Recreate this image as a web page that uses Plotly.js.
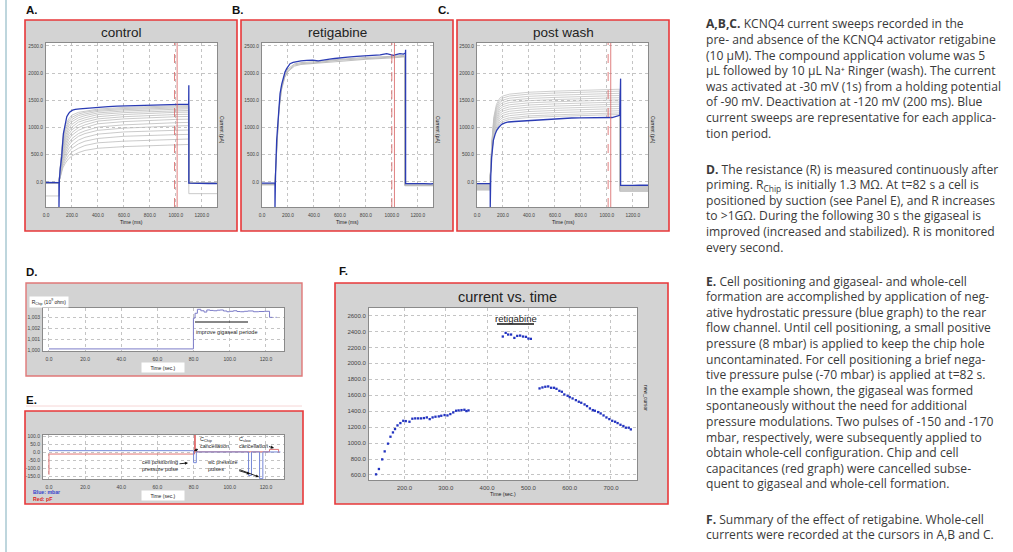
<!DOCTYPE html>
<html><head><meta charset="utf-8">
<script src="https://cdn.plot.ly/plotly-3.0.1.min.js"></script>
<style>html,body{margin:0;padding:0;background:#fff;}#chart{width:1013px;height:552px;}</style>
</head><body><div id="chart"></div>
<script>
// ---------------- DATA ----------------
// Panels A-C: current sweeps (time in ms, current in pA)
const sweepTicks = [0, 200, 400, 600, 800, 1000, 1200];
const sweepTickLabels = ['0.0', '200.0', '400.0', '600.0', '800.0', '1000.0', '1200.0'];
const currentTicks = [0, 500, 1000, 1500, 2000, 2500];
const currentTickLabels = ['0.0', '500.0', '1000.0', '1500.0', '2000.0', '2500.0'];

const blueA_t = [0, 30, 60, 99, 100, 100, 100, 103, 110, 121, 134, 147, 160, 175, 186, 205, 225, 260, 290, 350, 420, 480, 549, 610, 678, 740, 807, 870, 937, 990, 1040, 1099, 1100, 1100, 1110, 1150, 1200, 1250, 1300, 1317];
const blueA_v = [-10, -14, -9, -12, -12, -470, -12, 40, 250, 470, 890, 1080, 1200, 1260, 1290, 1320, 1335, 1345, 1352, 1362, 1372, 1385, 1395, 1400, 1408, 1405, 1420, 1415, 1427, 1425, 1433, 1430, 1780, -20, -22, -26, -20, -28, -25, -30];

const blueB_t = [0, 40, 80, 99, 100, 100, 100, 104, 113, 126, 139, 152, 164, 177, 190, 216, 240, 267, 300, 344, 390, 434, 470, 520, 560, 600, 660, 729, 790, 857, 910, 960, 1011, 1040, 1062, 1090, 1105, 1106, 1106, 1120, 1160, 1200, 1250, 1300, 1317];
const blueB_v = [-20, -22, -18, -20, -20, -470, -20, 100, 767, 1318, 1624, 1800, 1930, 2020, 2083, 2175, 2200, 2218, 2228, 2236, 2240, 2225, 2245, 2260, 2270, 2285, 2295, 2310, 2315, 2328, 2335, 2359, 2328, 2345, 2359, 2350, 2371, 2430, -30, -32, -28, -33, -30, -35, -32];

const blueC_t = [0, 40, 80, 101, 102, 102, 102, 106, 113, 126, 140, 152, 170, 190, 215, 242, 290, 344, 400, 473, 540, 600, 660, 729, 790, 857, 920, 985, 1040, 1100, 1106, 1106, 1120, 1160, 1200, 1250, 1300, 1317];
const blueC_v = [-30, -28, -32, -30, -30, -470, -30, 100, 460, 766, 880, 950, 1010, 1060, 1085, 1103, 1112, 1121, 1135, 1146, 1155, 1164, 1170, 1176, 1180, 1182, 1178, 1182, 1185, 1225, 1900, -60, -62, -58, -64, -60, -62, -60];

// grey sweeps: values at these times (ms)
const greyTimes = [100, 115, 130, 150, 175, 200, 250, 300, 400, 600, 800, 1000, 1100];
const greyA = [
  [0, 150, 260, 350, 430, 480, 540, 580, 620, 650, 670, 680, 690],
  [0, 170, 300, 400, 490, 550, 620, 670, 720, 750, 770, 780, 790],
  [0, 190, 340, 450, 550, 620, 700, 750, 800, 840, 860, 870, 875],
  [0, 210, 380, 500, 610, 680, 770, 820, 880, 920, 940, 950, 955],
  [0, 230, 420, 550, 670, 750, 840, 890, 950, 990, 1015, 1030, 1035],
  [0, 250, 460, 600, 720, 800, 890, 940, 1010, 1050, 1075, 1090, 1095],
  [0, 270, 500, 650, 780, 860, 950, 1000, 1070, 1110, 1135, 1150, 1155],
  [0, 290, 540, 700, 830, 910, 1000, 1050, 1120, 1160, 1185, 1200, 1205],
  [0, 310, 580, 750, 880, 960, 1050, 1100, 1160, 1200, 1225, 1240, 1245],
  [0, 330, 620, 800, 930, 1010, 1100, 1140, 1200, 1240, 1265, 1280, 1285],
  [0, 350, 660, 850, 980, 1060, 1140, 1180, 1240, 1275, 1295, 1310, 1315],
  [0, 370, 700, 900, 1030, 1110, 1180, 1220, 1270, 1305, 1325, 1340, 1345],
  [0, 390, 740, 950, 1080, 1150, 1220, 1250, 1300, 1330, 1350, 1360, 1365],
  [0, 410, 780, 1000, 1120, 1190, 1250, 1280, 1320, 1350, 1370, 1380, 1385],
  [0, 430, 820, 1050, 1160, 1230, 1280, 1300, 1340, 1370, 1390, 1400, 1405]
];
const greyA_pre = [-257, -15, -15, -15, -15, -15, -15, -15, -15, -15, -15, -15, -15, -15, -15];
const greyA_post = [-215, -25, -25, -25, -25, -25, -25, -25, -25, -25, -25, -25, -25, -25, -25];

const greyB = [
  [0, 800, 1350, 1740, 1970, 2080, 2170, 2195, 2210, 2255, 2290, 2310, 2330],
  [0, 780, 1320, 1710, 1940, 2050, 2150, 2175, 2190, 2240, 2270, 2290, 2310],
  [0, 760, 1300, 1690, 1920, 2030, 2130, 2160, 2180, 2225, 2255, 2280, 2300]
];
const greyB_pre = [-35, -45, -55];
const greyB_post = [-50, -60, -70];

const greyC = [
  [0, 750, 1200, 1430, 1540, 1580, 1615, 1630, 1650, 1670, 1685, 1695, 1705],
  [0, 730, 1170, 1390, 1500, 1545, 1580, 1595, 1615, 1635, 1650, 1660, 1670],
  [0, 710, 1140, 1350, 1460, 1505, 1540, 1555, 1575, 1595, 1610, 1620, 1630],
  [0, 690, 1100, 1310, 1420, 1465, 1500, 1515, 1535, 1555, 1570, 1580, 1590],
  [0, 670, 1070, 1270, 1380, 1425, 1460, 1475, 1495, 1515, 1530, 1540, 1550],
  [0, 650, 1040, 1230, 1340, 1385, 1420, 1435, 1455, 1475, 1490, 1500, 1510],
  [0, 630, 1010, 1190, 1300, 1345, 1380, 1395, 1415, 1435, 1450, 1460, 1470],
  [0, 610, 980, 1150, 1260, 1305, 1340, 1355, 1375, 1395, 1410, 1420, 1430],
  [0, 600, 950, 1110, 1220, 1265, 1300, 1315, 1335, 1355, 1370, 1380, 1390],
  [0, 590, 920, 1070, 1180, 1225, 1260, 1275, 1295, 1315, 1330, 1340, 1350],
  [0, 580, 890, 1030, 1140, 1185, 1220, 1235, 1255, 1275, 1290, 1300, 1310],
  [0, 570, 860, 1000, 1100, 1145, 1180, 1195, 1215, 1235, 1250, 1260, 1270],
  [0, 560, 840, 970, 1070, 1110, 1150, 1165, 1185, 1205, 1220, 1230, 1240]
];
const greyC_pre = [-150, -140, -130, -120, -110, -100, -90, -80, -70, -60, -50, -40, -35];
const greyC_post = [-175, -165, -155, -145, -135, -125, -115, -105, -95, -85, -75, -70, -65];

// cursor positions (ms) [dashed, solid]
const cursorsA = [990, 1010];
const cursorsB = [1000, 1020];
const cursorsC = [1010, 1030];

// Panel D: resistance (10^9 ohm) vs time (s)
const secTicks = [0, 20, 40, 60, 80, 100, 120];
const secTickLabels = ['0.0', '20.0', '40.0', '60.0', '80.0', '100.0', '120.0'];
const resTicks = [1.000, 1.001, 1.002, 1.003];
const resTickLabels = ['1,000', '1,001', '1,002', '1,003'];
const dTime = [0, 79.9, 80.8, 82.1, 84, 85.8, 87.3, 89, 91, 93, 94.7, 96.5, 98.4, 100, 102, 104, 105.8, 108, 110, 113.1, 116, 119, 122];
const dR = [1.0001, 1.0029, 1.00334, 1.0037, 1.00357, 1.00345, 1.00364, 1.0036, 1.00357, 1.00362, 1.00364, 1.00355, 1.00348, 1.00352, 1.00357, 1.0035, 1.00348, 1.00352, 1.00355, 1.00348, 1.0035, 1.00352, 1.00297];
const dTailTime = [122, 126];
const dTailR = [1.00297, 1.00297];

// Panel E: pressure (mbar) and capacitance (pF) vs time (s)
const eTicks = [-150, -100, -50, 0, 50, 100];
const eTickLabels = ['-150.0', '-100.0', '-50.0', '0.0', '50.0', '100.0'];
const eTime = [0, 80, 80, 81.5, 81.5, 110.4, 110.4, 112, 112, 116.5, 116.5, 118.3, 118.3, 128];
const ePressure = [10, 10, -65, -65, 2, 2, -145, -145, 2, 2, -165, -165, 2, 2];
const capTime = [0, 0, 80.5, 80.5, 81, 81, 122, 122, 127, 127];
const capValue = [-140, -11, -11, 110, 110, 3, 3, 18, 18, -2];

// Panel F: current vs time
const fTicksX = [200, 300, 400, 500, 600, 700];
const fTickLabelsX = ['200.0', '300.0', '400.0', '500.0', '600.0', '700.0'];
const fTicksY = [600, 800, 1000, 1200, 1400, 1600, 1800, 2000, 2200, 2400, 2600];
const fTickLabelsY = ['600.0', '800.0', '1000.0', '1200.0', '1400.0', '1600.0', '1800.0', '2000.0', '2200.0', '2400.0', '2600.0'];
const fTime = [131, 138, 146, 152, 160, 166, 172, 177, 183, 190, 197, 203, 212, 219, 226, 233, 240, 247, 254, 261, 268, 275, 283, 289, 297, 304, 311, 318, 325, 331, 338, 345, 350, 355,
  438, 445, 451, 458, 466, 473, 480, 487, 494, 500, 506,
  527, 534, 541, 548, 555, 562, 568, 575, 581, 587, 595, 600, 607, 615, 622, 628, 636, 642, 649, 656, 661, 669, 675, 682, 689, 696, 703, 710, 716, 723, 730, 736, 743, 748];
const fCurrent = [608, 675, 796, 896, 993, 1080, 1134, 1176, 1222, 1251, 1280, 1276, 1268, 1306, 1310, 1310, 1310, 1314, 1322, 1301, 1322, 1331, 1335, 1343, 1352, 1347, 1364, 1385, 1406, 1410, 1414, 1418, 1402, 1410,
  2337, 2383, 2362, 2362, 2320, 2345, 2349, 2337, 2333, 2312, 2308,
  1686, 1698, 1707, 1711, 1694, 1694, 1681, 1656, 1644, 1610, 1594, 1577, 1560, 1539, 1519, 1506, 1485, 1464, 1435, 1414, 1406, 1389, 1372, 1347, 1322, 1301, 1280, 1268, 1251, 1230, 1214, 1193, 1193, 1172];

// Text panel
const textABC = [
  '<b>A,B,C.</b> KCNQ4 current sweeps recorded in the',
  'pre- and absence of the KCNQ4 activator retigabine',
  '(10 µM). The compound application volume was 5',
  'µL followed by 10 µL Na⁺ Ringer (wash). The current',
  'was activated at -30 mV (1s) from a holding potential',
  'of -90 mV. Deactivation at -120 mV (200 ms). Blue',
  'current sweeps are representative for each applica-',
  'tion period.'
];
const textD = [
  '<b>D.</b> The resistance (R) is measured continuously after',
  'priming. R<sub>Chip</sub> is initially 1.3 MΩ. At t=82 s a cell is',
  'positioned by suction (see Panel E), and R increases',
  'to &gt;1GΩ. During the following 30 s the gigaseal is',
  'improved (increased and stabilized). R is monitored',
  'every second.'
];
const textE = [
  '<b>E.</b> Cell positioning and gigaseal- and whole-cell',
  'formation are accomplished by application of neg-',
  'ative hydrostatic pressure (blue graph) to the rear',
  'flow channel. Until cell positioning, a small positive',
  'pressure (8 mbar) is applied to keep the chip hole',
  'uncontaminated. For cell positioning a brief nega-',
  'tive pressure pulse (-70 mbar) is applied at t=82 s.',
  'In the example shown, the gigaseal was formed',
  'spontaneously without the need for additional',
  'pressure modulations. Two pulses of -150 and -170',
  'mbar, respectively, were subsequently applied to',
  'obtain whole-cell configuration. Chip and cell',
  'capacitances (red graph) were cancelled subse-',
  'quent to gigaseal and whole-cell formation.'
];
const textF = [
  '<b>F.</b> Summary of the effect of retigabine. Whole-cell',
  'currents were recorded at the cursors in A,B and C.'
];

// ---------------- LAYOUT HELPERS ----------------
const W = 1013, H = 552;
const PX = p => p / W;
const PY = p => 1 - p / H;
const FONT = 'Liberation Sans, Arial, sans-serif';
const RED = '#e8383a';
const BLUE = '#2b3cb4';
const GREY = '#bdbdbd';

const rects = {
  A: [46, 217, 43, 207], B: [262, 433, 43, 207], C: [477, 648, 43, 207],
  D: [43, 284, 308, 351], E: [43, 284, 435, 479], F: [369, 637, 308, 480]
};
const ids = {A: '', B: '2', C: '3', D: '4', E: '5', F: '6'};

function axis(kind, key, range, tickvals, ticktext, fs, tl) {
  const r = rects[key];
  const o = {
    range: range, autorange: false, fixedrange: true,
    showline: true, mirror: true, linecolor: '#8a8a8a', linewidth: 1,
    showgrid: true, gridcolor: '#c4c4c4', griddash: 'dot', gridwidth: 1,
    zeroline: false, ticks: 'outside', ticklen: tl, tickcolor: 'rgba(0,0,0,0)',
    tickvals: tickvals, ticktext: ticktext,
    tickfont: {size: fs, color: '#444', family: FONT}, automargin: false
  };
  if (kind === 'x') { o.domain = [PX(r[0]), PX(r[1])]; o.anchor = 'y' + ids[key]; }
  else { o.domain = [PY(r[3]), PY(r[2])]; o.anchor = 'x' + ids[key]; }
  return o;
}

const traces = [];
function addGrey(key, sets, pre, post, color) {
  sets.forEach((vals, i) => {
    traces.push({
      x: [0, 100].concat(greyTimes).concat([1100, 1317]),
      y: [pre[i], pre[i]].concat(vals).concat([post[i], post[i]]),
      xaxis: 'x' + ids[key], yaxis: 'y' + ids[key], mode: 'lines',
      line: {color: color, width: 0.8}, hoverinfo: 'skip'
    });
  });
}
addGrey('A', greyA, greyA_pre, greyA_post, GREY);
addGrey('B', greyB, greyB_pre, greyB_post, '#b0b0b0');
addGrey('C', greyC, greyC_pre, greyC_post, '#c2c2c2');
[['A', blueA_t, blueA_v], ['B', blueB_t, blueB_v], ['C', blueC_t, blueC_v]].forEach(([k, t, v]) => {
  traces.push({x: t, y: v, xaxis: 'x' + ids[k], yaxis: 'y' + ids[k], mode: 'lines',
    line: {color: BLUE, width: 1.3}, hoverinfo: 'skip'});
});
traces.push({x: dTime, y: dR, xaxis: 'x4', yaxis: 'y4', mode: 'lines', line: {color: '#7c7cc8', width: 1, shape: 'hv'}});
traces.push({x: dTailTime, y: dTailR, xaxis: 'x4', yaxis: 'y4', mode: 'lines', line: {color: '#7c7cc8', width: 1, dash: 'dot'}});
traces.push({x: capTime, y: capValue, xaxis: 'x5', yaxis: 'y5', mode: 'lines', line: {color: '#e07474', width: 1}});
traces.push({x: eTime, y: ePressure, xaxis: 'x5', yaxis: 'y5', mode: 'lines', line: {color: '#7486d6', width: 1}});
traces.push({x: fTime, y: fCurrent, xaxis: 'x6', yaxis: 'y6', mode: 'markers',
  marker: {color: '#2233c0', size: 2.3, symbol: 'square'}});

// ---------------- SHAPES ----------------
const shapes = [];
function box(l, r, t, b, fill, lc, lw) {
  shapes.push({type: 'rect', xref: 'paper', yref: 'paper', x0: PX(l), x1: PX(r), y0: PY(b), y1: PY(t),
    fillcolor: fill, line: {color: lc, width: lw}, layer: 'below'});
}
function seg(x0, y0, x1, y1, color, w) {
  shapes.push({type: 'line', xref: 'paper', yref: 'paper', x0: PX(x0), x1: PX(x1), y0: PY(y0), y1: PY(y1),
    line: {color: color, width: w}, layer: 'above'});
}
box(25, 237, 20, 231, '#d3d3d3', RED, 1.6);
box(241, 453, 20, 231, '#d3d3d3', RED, 1.6);
box(457, 669, 20, 231, '#d3d3d3', RED, 1.6);
box(26, 302, 283, 376, '#d3d3d3', '#e07878', 1.4);
box(25, 303, 411, 504, '#d3d3d3', RED, 1.6);
box(335, 668, 283, 504, '#d3d3d3', RED, 1.6);
Object.keys(rects).forEach(k => { const r = rects[k]; box(r[0], r[1], r[2], r[3], '#ffffff', 'rgba(0,0,0,0)', 0); });
seg(6, 0, 6, 552, '#a9c9d2', 1.5);
seg(26, 406, 302, 406, '#f6d6d6', 1);
seg(195, 322, 248, 322, '#111', 1.2);
seg(497, 324, 534, 324, '#111', 1.5);
[['A', cursorsA], ['B', cursorsB], ['C', cursorsC]].forEach(([k, c]) => {
  shapes.push({type: 'line', xref: 'x' + ids[k], yref: 'y' + ids[k] + ' domain', x0: c[0], x1: c[0], y0: 0, y1: 1,
    line: {color: '#d86060', width: 0.8, dash: 'dash'}, layer: 'above'});
  shapes.push({type: 'line', xref: 'x' + ids[k], yref: 'y' + ids[k] + ' domain', x0: c[1], x1: c[1], y0: 0, y1: 1,
    line: {color: '#d86060', width: 0.8}, layer: 'above'});
});

// ---------------- ANNOTATIONS ----------------
const ann = [];
function txt(x, y, text, size, opts) {
  ann.push(Object.assign({xref: 'paper', yref: 'paper', x: PX(x), y: PY(y), text: text, showarrow: false,
    xanchor: 'center', yanchor: 'middle', font: {size: size, color: '#222', family: FONT}}, opts || {}));
}
const lab = {font: {size: 11.5, color: '#111', family: FONT}};
txt(32, 10, '<b>A.</b>', 11.5, lab);
txt(238, 10, '<b>B.</b>', 11.5, lab);
txt(444, 10, '<b>C.</b>', 11.5, lab);
txt(32, 272, '<b>D.</b>', 11.5, lab);
txt(32, 400, '<b>E.</b>', 11.5, lab);
txt(343, 271, '<b>F.</b>', 11.5, lab);
txt(121, 32, 'control', 13.5);
txt(337, 32, 'retigabine', 13.5);
txt(563, 32, 'post wash', 13.5);
txt(131, 222.5, 'Time (ms)', 5);
txt(347, 222.5, 'Time (ms)', 5);
txt(563, 222.5, 'Time (ms)', 5);
txt(222, 130, 'Current (pA)', 5, {textangle: 90});
txt(438, 130, 'Current (pA)', 5, {textangle: 90});
txt(653, 130, 'Current (pA)', 5, {textangle: 90});
txt(48.5, 301.5, 'R<sub>Chip</sub> (10<sup>9</sup> ohm)', 5, {bgcolor: '#fff', width: 36, height: 8});
txt(163, 367, 'Time (sec.)', 5, {bgcolor: '#fff', width: 40, height: 7});
txt(163, 495.5, 'Time (sec.)', 5, {bgcolor: '#fff', width: 40, height: 7});
txt(226, 332, 'improve gigaseal periode', 5.5);
txt(31, 492, '<b>Blue: mbar</b>', 5.2, {xanchor: 'left', font: {size: 5.2, color: '#3344cc', family: FONT}});
txt(31, 498.5, '<b>Red: pF</b>', 5.2, {xanchor: 'left', font: {size: 5.2, color: '#dd2222', family: FONT}});
txt(507, 297, 'current vs. time', 14.5);
txt(515.5, 318, 'retigabine', 9.5);
txt(503, 494, 'Time (sec.)', 5.2);
txt(646, 398, 'new_cursor', 5, {textangle: 90});
function arrow(hx, hy, tx, ty, text) {
  ann.push({xref: 'paper', yref: 'paper', x: PX(hx), y: PY(hy), ax: tx - hx, ay: ty - hy, text: text,
    showarrow: true, arrowhead: 2, arrowsize: 0.7, arrowwidth: 0.9, arrowcolor: '#111',
    font: {size: 5.5, color: '#222', family: FONT}, align: 'left'});
}
arrow(194, 451, 214, 442, 'C<sub>Chip</sub><br>cancellation');
arrow(274, 448, 253, 442, 'C<sub>slow</sub><br>cancellation');
arrow(188, 463, 160, 465.5, 'cell positioning<br>pressure pulse');
arrow(250, 474, 222, 465.5, 'wc pressure<br>pulses');
arrow(259, 477, 238, 469, '');

const TF = 'Open Sans, sans-serif';
function para(lines, y0) {
  lines.forEach((s, i) => {
    ann.push({xref: 'paper', yref: 'paper', x: PX(704), y: PY(y0 + i * 15.6), text: s, showarrow: false,
      xanchor: 'left', yanchor: 'middle', font: {size: 12.1, color: '#3a3a3a', family: TF}});
  });
}
para(textABC, 24);
para(textD, 169);
para(textE, 281);
para(textF, 519);

const layout = {
  width: W, height: H, margin: {l: 0, r: 0, t: 0, b: 0},
  paper_bgcolor: '#ffffff', plot_bgcolor: 'rgba(0,0,0,0)', showlegend: false,
  xaxis: axis('x', 'A', [0, 1317], sweepTicks, sweepTickLabels, 4.8, 3),
  yaxis: axis('y', 'A', [-460, 2555], currentTicks, currentTickLabels, 4.8, 1),
  xaxis2: axis('x', 'B', [0, 1317], sweepTicks, sweepTickLabels, 4.8, 3),
  yaxis2: axis('y', 'B', [-460, 2555], currentTicks, currentTickLabels, 4.8, 1),
  xaxis3: axis('x', 'C', [0, 1317], sweepTicks, sweepTickLabels, 4.8, 3),
  yaxis3: axis('y', 'C', [-460, 2555], currentTicks, currentTickLabels, 4.8, 1),
  xaxis4: axis('x', 'D', [-3.3, 130], secTicks, secTickLabels, 5, 3),
  yaxis4: axis('y', 'D', [0.99991, 1.00382], resTicks, resTickLabels, 5, 1),
  xaxis5: axis('x', 'E', [-3.3, 130], secTicks, secTickLabels, 5, 3),
  yaxis5: axis('y', 'E', [-167, 108], eTicks, eTickLabels, 5, 1),
  xaxis6: axis('x', 'F', [114, 763], fTicksX, fTickLabelsX, 6, 2),
  yaxis6: axis('y', 'F', [537, 2695], fTicksY, fTickLabelsY, 6, 1),
  shapes: shapes, annotations: ann
};
Plotly.newPlot('chart', traces, layout, {displayModeBar: false, staticPlot: true});
</script></body></html>
